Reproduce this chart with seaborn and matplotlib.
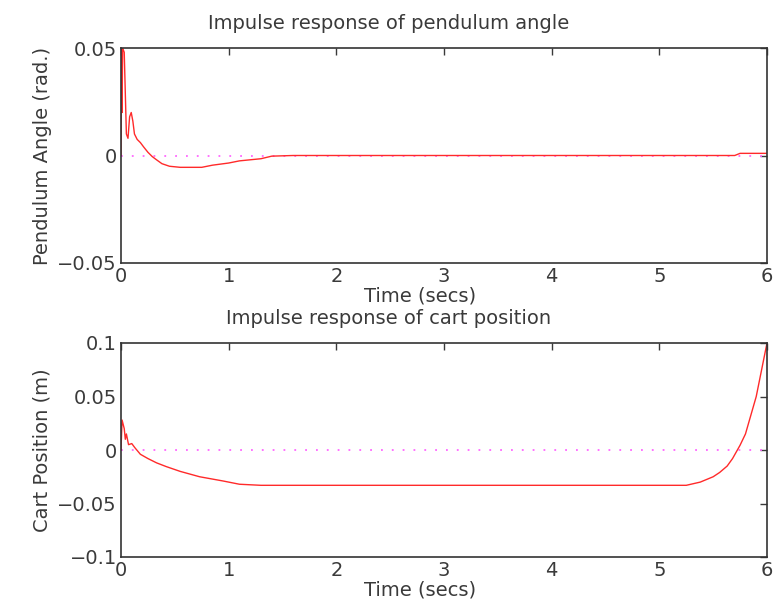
import matplotlib
matplotlib.use("Agg")
import matplotlib.pyplot as plt
import seaborn as sns
import numpy as np

# ---- data ----
t_angle = [0, 0.005, 0.01, 0.015, 0.03, 0.05, 0.065, 0.08, 0.095, 0.11, 0.125,
           0.15, 0.18, 0.21, 0.25, 0.29, 0.33, 0.38, 0.45, 0.55, 0.75, 0.85,
           1.0, 1.1, 1.3, 1.4, 1.6, 3.0, 5.7, 5.75, 6.0]
angle = [0, 0.05, 0.02, 0.05, 0.048, 0.01, 0.008, 0.018, 0.02, 0.016, 0.01,
         0.0075, 0.006, 0.004, 0.0015, -0.0005, -0.002, -0.0038, -0.005, -0.0055,
         -0.0055, -0.0045, -0.0035, -0.0025, -0.0015, -0.0003, 0.0, 0.0, 0.0,
         0.001, 0.001]

t_cart = [0, 0.01, 0.03, 0.04, 0.05, 0.07, 0.1, 0.13, 0.18, 0.25, 0.33, 0.42,
          0.55, 0.73, 0.95, 1.1, 1.3, 3.0, 5.25, 5.38, 5.5, 5.56, 5.63, 5.68,
          5.75, 5.8, 5.84, 5.9, 5.96, 6.0]
cart = [0, 0.028, 0.02, 0.01, 0.015, 0.005, 0.006, 0.002, -0.004, -0.008, -0.012,
        -0.0155, -0.02, -0.025, -0.029, -0.032, -0.033, -0.033, -0.033, -0.03,
        -0.025, -0.021, -0.015, -0.008, 0.0045, 0.015, 0.029, 0.05, 0.08, 0.1]

zero_t = [0, 6]
zero_v = [0, 0]

x_ticks = [0, 1, 2, 3, 4, 5, 6]
x_ticklabels = ["0", "1", "2", "3", "4", "5", "6"]
angle_yticks = [-0.05, 0, 0.05]
angle_yticklabels = ["\u22120.05", "0", "0.05"]
cart_yticks = [-0.1, -0.05, 0, 0.05, 0.1]
cart_yticklabels = ["\u22120.1", "\u22120.05", "0", "0.05", "0.1"]

titles = ["Impulse response of pendulum angle", "Impulse response of cart position"]
ylabels = ["Pendulum Angle (rad.)", "Cart Position (m)"]
xlabel = "Time (secs)"

# ---- style ----
sns.set_style("white")
plt.rcParams["font.family"] = ["DejaVu Sans"]
txt = "#3a3a3a"

fig = plt.figure(figsize=(7.74, 6.03), dpi=100)
W, H = 774, 603
ax1 = fig.add_axes([121 / W, 1 - 263 / H, (767 - 121) / W, (263 - 48) / H])
ax2 = fig.add_axes([121 / W, 1 - 557 / H, (767 - 121) / W, (557 - 343) / H])

series = [(ax1, t_angle, angle, angle_yticks, angle_yticklabels, (-0.05, 0.05)),
          (ax2, t_cart, cart, cart_yticks, cart_yticklabels, (-0.1, 0.1))]

title_x = (389 - 121) / 646
xlabel_x = (420 - 121) / 646

for i, (ax, tt, yy, yt, ytl, ylim) in enumerate(series):
    sns.lineplot(x=zero_t, y=zero_v, ax=ax, color="#ff66ff", lw=1.3,
                 linestyle=(0, (1, 5)), estimator=None, sort=False)
    sns.lineplot(x=tt, y=yy, ax=ax, color="#ff2a2a", lw=1.0,
                 estimator=None, sort=False)
    ax.set_xlim(0, 6)
    ax.set_ylim(*ylim)
    ax.set_xticks(x_ticks)
    ax.set_xticklabels(x_ticklabels)
    ax.set_yticks(yt)
    ax.set_yticklabels(ytl)
    ax.tick_params(direction="in", length=5, width=1, top=True, right=True,
                   labelsize=14, colors=txt, pad=3)
    for s in ax.spines.values():
        s.set_color("#333333")
        s.set_linewidth(1.2)
    ax.set_title(titles[i], fontsize=14, color=txt, pad=14, x=title_x)
    ax.set_xlabel(xlabel, fontsize=14, color=txt)
    ax.xaxis.set_label_coords(xlabel_x, -0.108)
    ax.set_ylabel(ylabels[i], fontsize=14, color=txt, labelpad=4)

fig.savefig("out.png", dpi=100)
